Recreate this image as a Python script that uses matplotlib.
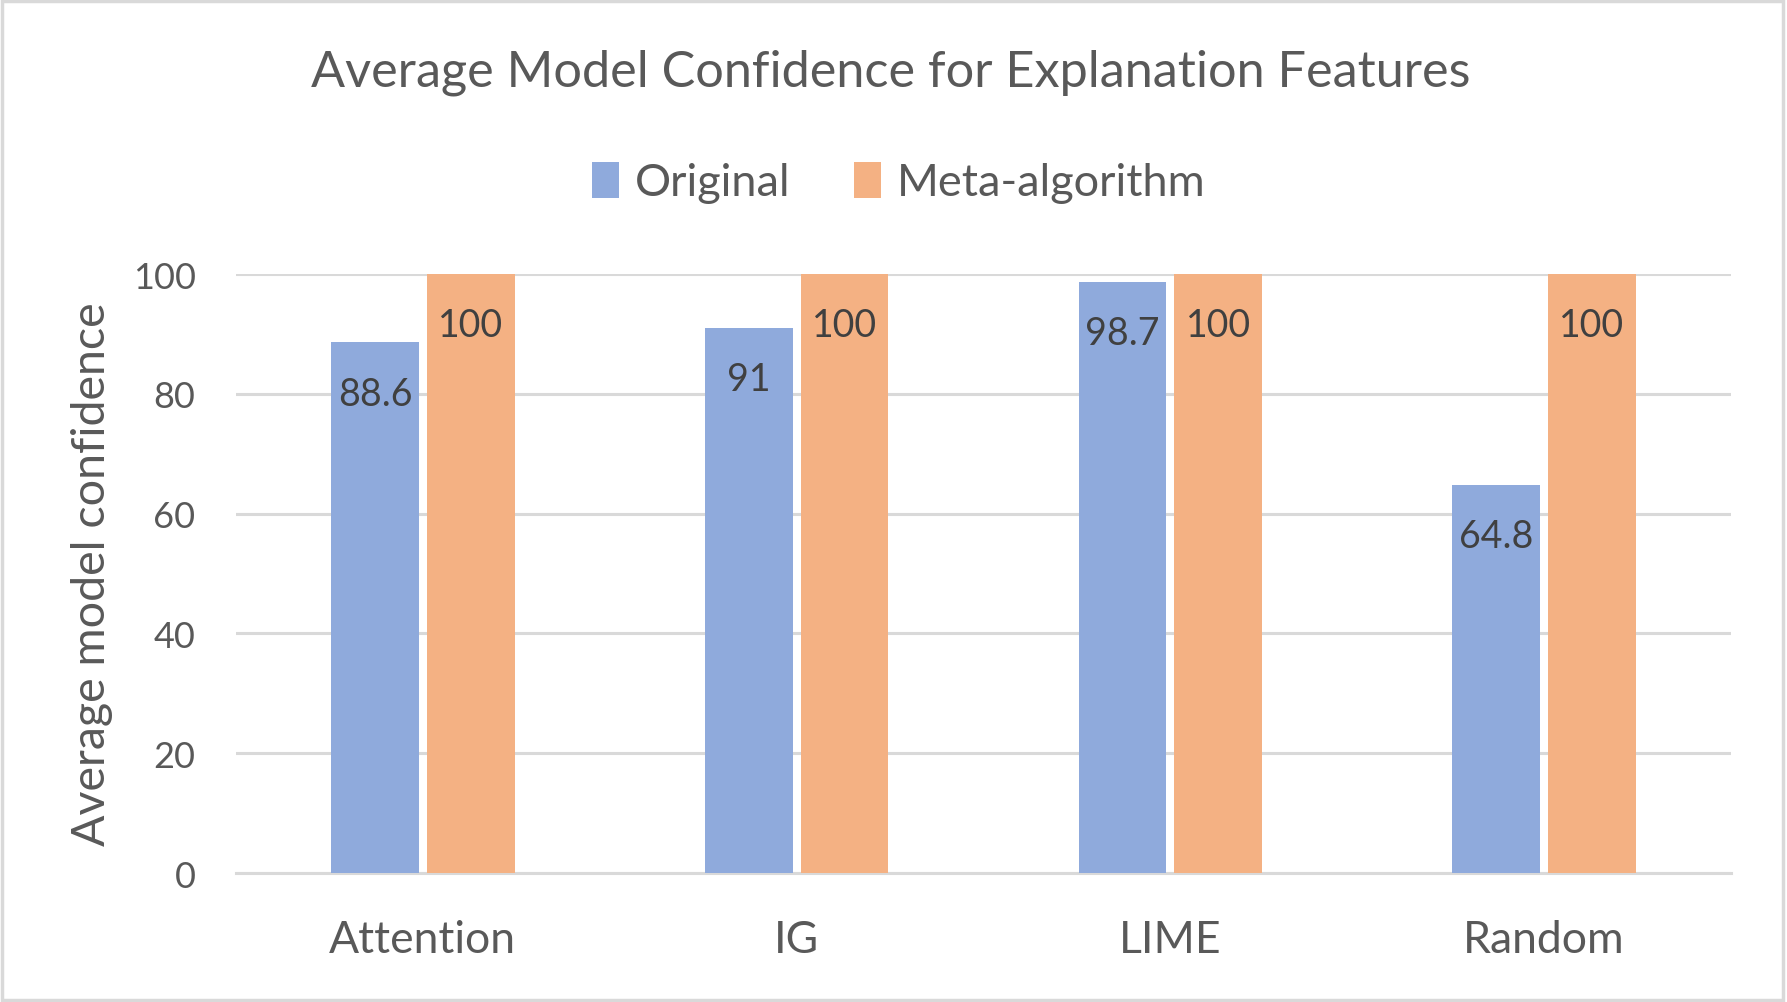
import matplotlib
matplotlib.use("Agg")
import matplotlib.pyplot as plt
import numpy as np
from matplotlib.patches import Rectangle

# data
methods = ["Attention", "IG", "LIME", "Random"]
original = [88.6, 91, 98.7, 64.8]
meta_algorithm = [100, 100, 100, 100]
series_names = ["Original", "Meta-algorithm"]

blue = "#8FAADC"
orange = "#F4B183"
text_grey = "#595959"
label_grey = "#404040"
grid_grey = "#D9D9D9"

plt.rcParams["font.family"] = ["Lato", "DejaVu Sans"]

fig = plt.figure(figsize=(17.87, 10.03), dpi=100)
ax = fig.add_axes([0.132, 0.1286, 0.8367, 0.5972])

x = np.arange(len(methods))
width = 0.235
off = 0.128

b1 = ax.bar(x - off, original, width, color=blue, label=series_names[0], zorder=3)
b2 = ax.bar(x + off, meta_algorithm, width, color=orange, label=series_names[1], zorder=3)

# value labels just inside the top of each bar
for bars in (b1, b2):
    for rect in bars:
        h = rect.get_height()
        ax.annotate(f"{h:g}", (rect.get_x() + rect.get_width() / 2, h),
                    xytext=(0, -37), textcoords="offset points",
                    ha="center", va="center", fontsize=27, color=label_grey, zorder=4)

ax.set_xlim(-0.5, len(methods) - 0.5)
ax.set_ylim(0, 100)
ax.set_yticks(range(0, 101, 20))
ax.set_xticks(x)
ax.set_xticklabels(methods)
ax.tick_params(axis="both", length=0, labelsize=26, labelcolor=text_grey)
ax.tick_params(axis="x", pad=33, labelsize=32)
ax.tick_params(axis="y", pad=29)
ax.yaxis.grid(True, color=grid_grey, linewidth=2.2, zorder=0)
ax.set_axisbelow(True)
for s in ["top", "right", "left"]:
    ax.spines[s].set_visible(False)
ax.spines["bottom"].set_color(grid_grey)
ax.spines["bottom"].set_linewidth(2.2)

ax.set_ylabel("Average model confidence", fontsize=33.5, color=text_grey, labelpad=14)

fig.text(0.4987, 0.927, "Average Model Confidence for Explanation Features",
         ha="center", va="center", fontsize=36.3, color=text_grey)

fig.legend(loc="center", bbox_to_anchor=(0.503, 0.817), ncol=2, frameon=False,
           fontsize=32.5, labelcolor=text_grey, handlelength=0.6, handleheight=0.85,
           handletextpad=0.35, columnspacing=1.4)

fig.patches.append(Rectangle((0.001, 0.002), 0.997, 0.996, transform=fig.transFigure,
                             fill=False, edgecolor=grid_grey, linewidth=2.5))

fig.savefig("out.png", dpi=100)
